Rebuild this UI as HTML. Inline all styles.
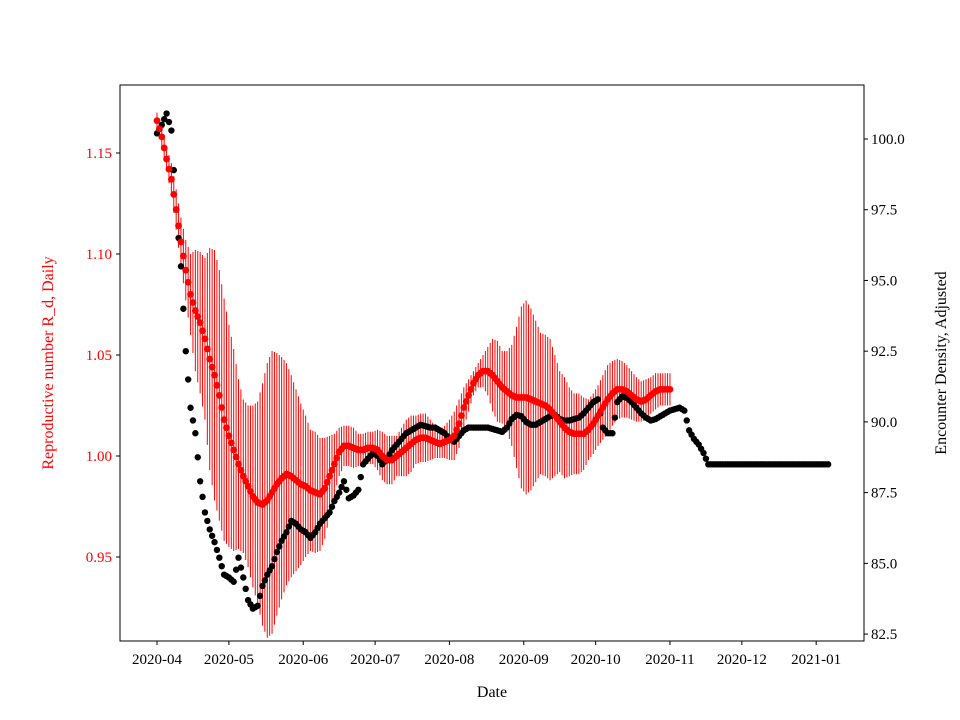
<!DOCTYPE html>
<html><head><meta charset="utf-8"><style>
html,body{margin:0;padding:0;background:#fff;}
svg{display:block;font-family:"Liberation Serif","DejaVu Serif",serif;}
</style></head><body>
<svg id="chart" width="960" height="720" viewBox="0 0 960 720" xmlns="http://www.w3.org/2000/svg">
<rect x="0" y="0" width="960" height="720" fill="#fff"/>
<g id="marks"></g>
<g id="axes"></g>
</svg>
<script>
const leftTicks=[0.95,1.00,1.05,1.10,1.15];
const leftTickLabels=["0.95","1.00","1.05","1.10","1.15"];
const rightTicks=[82.5,85.0,87.5,90.0,92.5,95.0,97.5,100.0];
const rightTickLabels=["82.5","85.0","87.5","90.0","92.5","95.0","97.5","100.0"];
const xTickDays=[0,30,61,91,122,153,183,214,244,275];
const xTickLabels=["2020-04","2020-05","2020-06","2020-07","2020-08","2020-09","2020-10","2020-11","2020-12","2021-01"];
// red series: every 2 days from 2020-04-01
const redValues=[1.166,1.158,1.147,1.137,1.122,1.106,1.092,1.080,1.072,1.066,1.058,1.048,1.040,1.030,1.018,1.010,1.003,0.996,0.990,0.985,0.980,0.977,0.976,0.978,0.982,0.986,0.989,0.991,0.990,0.988,0.986,0.985,0.983,0.982,0.981,0.984,0.990,0.996,1.002,1.005,1.005,1.004,1.003,1.003,1.004,1.004,1.003,1.000,0.998,0.998,1.000,1.002,1.004,1.006,1.008,1.009,1.009,1.008,1.007,1.006,
1.007,1.008,1.010,1.016,1.024,1.030,1.036,1.040,1.042,1.042,1.040,1.037,1.034,1.032,1.030,1.029,1.029,1.029,1.028,1.027,1.026,1.025,1.023,1.020,1.017,1.014,1.012,1.011,1.011,1.011,1.013,1.016,1.020,1.024,1.028,1.031,1.033,1.033,1.032,1.030,1.028,1.027,1.028,1.030,1.032,1.033,1.033,1.033];
const redErrors=[.004,.005,.006,.008,.010,.012,
.015,.020,.030,.035,.040,
.055,.062,.062,.060,.055,
.050,.042,.038,.040,.045,
.050,.060,.068,.070,.065,
.060,.055,.050,.045,.040,
.035,.030,.030,.028,.025,
.020,.015,.012,.010,.010,
.010,.008,.008,.008,.008,
.010,.012,.012,.012,.010,
.012,.014,.014,.012,.012,
.012,.010,.008,.007,.008,
.010,.012,.012,.010,.008,
.006,.006,.008,.012,.018,
.020,.018,.020,.025,.035,
.045,.048,.045,.040,.035,
.035,.035,.030,.025,.025,
.022,.020,.020,.018,.015,
.015,.015,.016,.017,.016,
.015,.014,.013,.012,.011,
.010,.010,.009,.009,.008,
.008,.008];
// black series: every 2 days from 2020-04-01
const blackValues=[100.2,100.5,100.9,100.3,97.5,95.5,92.5,90.5,89.6,87.9,86.8,86.2,85.75,85.2,84.6,84.5,84.35,85.2,84.5,83.7,83.4,83.5,84.2,84.6,84.9,85.4,85.8,86.1,86.5,86.4,86.2,86.1,85.9,86.1,86.4,86.6,86.8,87.2,87.5,87.9,87.3,87.4,87.6,88.5,88.7,88.9,88.8,88.5,88.7,89.0,89.2,89.4,89.6,89.7,89.8,89.9,89.85,89.8,89.8,89.7,89.6,89.4,89.3,89.5,89.7,89.8,89.8,89.8,89.8,89.8,89.75,89.7,89.65,89.8,90.1,90.25,90.2,90.0,89.9,89.9,90.0,90.1,90.2,90.25,90.1,90.05,90.05,90.1,90.15,90.3,90.5,90.7,90.8,89.8,89.6,89.6,90.7,90.9,90.85,90.7,90.5,90.3,90.15,90.05,90.1,90.2,90.3,90.4,90.45,90.5,90.4,89.7,89.4,89.2,88.9,88.5,
88.5,88.5,88.5,88.5,88.5,88.5,88.5,88.5,88.5,88.5,88.5,88.5,88.5,88.5,88.5,88.5,88.5,88.5,88.5,88.5,88.5,88.5,88.5,88.5,88.5];

const NS="http://www.w3.org/2000/svg";
const X0=120,X1=864,Y0=85,Y1=641;
function xScale(day){return 157+day*2.397;}
function yLeft(v){return 456-(v-1.0)*2020;}
function yRight(v){return 139+(100-v)*28.29;}
function mk(tag,attrs,parent){const e=document.createElementNS(NS,tag);for(const k in attrs)e.setAttribute(k,attrs[k]);parent.appendChild(e);return e;}
const marks=document.getElementById('marks');
const axes=document.getElementById('axes');

function errAt(i){return redErrors[Math.min(i,redErrors.length-1)];}
// red error bars
for(let i=0;i<redValues.length;i++){
  const x=xScale(i*2),v=redValues[i],e=errAt(i);
  const l=mk('line',{x1:x,x2:x,y1:yLeft(v+e),y2:yLeft(v-e),stroke:'#ff0000','stroke-width':1},marks);
  
  
  if(i<redValues.length-1){
    const vm=(v+redValues[i+1])/2,em=(e+errAt(i+1))/2,xm=xScale(i*2+1);
    const l2=mk('line',{x1:xm,x2:xm,y1:yLeft(vm+em),y2:yLeft(vm-em),stroke:'#ff0000','stroke-width':1},marks);
    
    
  }
}
// black points
for(let i=0;i<blackValues.length;i++){
  const c=mk('circle',{cx:xScale(i*2),cy:yRight(blackValues[i]),r:3.2,fill:'#000'},marks);
  
  
  if(i<blackValues.length-1){
    const c2=mk('circle',{cx:xScale(i*2+1),cy:(yRight(blackValues[i])+yRight(blackValues[i+1]))/2,r:3.2,fill:'#000'},marks);
    
    
  }
}
// red points
for(let i=0;i<redValues.length;i++){
  const c=mk('circle',{cx:xScale(i*2),cy:yLeft(redValues[i]),r:3.4,fill:'#ff0000'},marks);
  
  
  if(i<redValues.length-1){
    const c2=mk('circle',{cx:xScale(i*2+1),cy:(yLeft(redValues[i])+yLeft(redValues[i+1]))/2,r:3.4,fill:'#ff0000'},marks);
    
    
  }
}

// frame
const fr=mk('rect',{x:X0,y:Y0,width:X1-X0,height:Y1-Y0,fill:'none',stroke:'#000','stroke-width':1},axes);



for(let i=0;i<leftTicks.length;i++){
  const y=yLeft(leftTicks[i]);
  mk('line',{x1:X0-4,x2:X0,y1:y,y2:y,stroke:'#000'},axes);
  const t=mk('text',{x:X0-8,y:y+5,'text-anchor':'end','font-size':15,fill:'#ff0000'},axes);
  t.textContent=leftTickLabels[i];
  
  
}
for(let i=0;i<rightTicks.length;i++){
  const y=yRight(rightTicks[i]);
  mk('line',{x1:X1,x2:X1+4,y1:y,y2:y,stroke:'#000'},axes);
  const t=mk('text',{x:X1+7,y:y+5,'text-anchor':'start','font-size':15,fill:'#000'},axes);
  t.textContent=rightTickLabels[i];
  
  
}
for(let i=0;i<xTickDays.length;i++){
  const x=xScale(xTickDays[i]);
  mk('line',{x1:x,x2:x,y1:Y1,y2:Y1+4,stroke:'#000'},axes);
  const t=mk('text',{x:x,y:Y1+23,'text-anchor':'middle','font-size':15,fill:'#000'},axes);
  t.textContent=xTickLabels[i];
  
  
}
</script>
<svg style="position:absolute;left:0;top:0" width="960" height="720">
<text x="492" y="697" text-anchor="middle" font-size="16" font-family="Liberation Serif, serif">Date</text>
<text transform="translate(53,363) rotate(-90)" text-anchor="middle" font-size="16" fill="#ff0000" font-family="Liberation Serif, serif">Reproductive number R_d, Daily</text>
<text transform="translate(946,363) rotate(-90)" text-anchor="middle" font-size="16" font-family="Liberation Serif, serif">Encounter Density, Adjusted</text>
</svg>
</body></html>
